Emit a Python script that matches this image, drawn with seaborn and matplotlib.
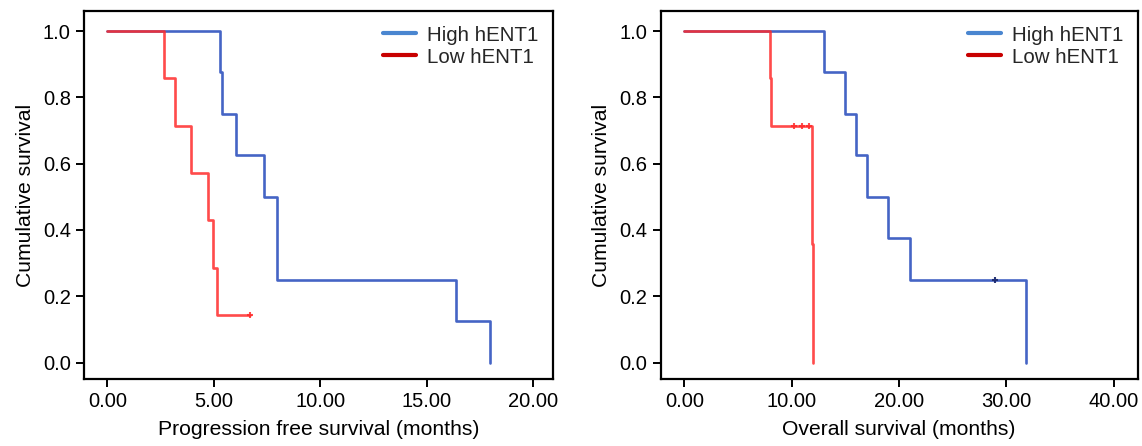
import numpy as np
import pandas as pd
import matplotlib
matplotlib.use("Agg")
import matplotlib.pyplot as plt
from matplotlib.lines import Line2D
import seaborn as sns

# Progression free survival (months), 1 = event, 0 = censored
pfs_high_time = [5.27, 5.38, 6.05, 7.36, 7.97, 7.97, 16.38, 17.98]
pfs_high_event = [1, 1, 1, 1, 1, 1, 1, 1]
pfs_low_time = [2.64, 3.17, 3.94, 4.75, 4.97, 5.14, 6.71]
pfs_low_event = [1, 1, 1, 1, 1, 1, 0]

# Overall survival (months)
os_high_time = [13.0, 15.0, 16.0, 17.0, 19.0, 21.0, 29.0, 31.8]
os_high_event = [1, 1, 1, 1, 1, 1, 0, 1]
os_low_time = [8.0, 8.1, 10.2, 11.0, 11.6, 11.9, 12.0]
os_low_event = [1, 1, 0, 0, 0, 1, 1]

group_labels = ["High hENT1", "Low hENT1"]
pfs_xticks = [0, 5, 10, 15, 20]
os_xticks = [0, 10, 20, 30, 40]
yticks = [0.0, 0.2, 0.4, 0.6, 0.8, 1.0]

BLUE = "#3b5cc2"
RED = "#ff2b2b"


def km_table(times, events):
    df = pd.DataFrame({"t": times, "e": events}).sort_values("t")
    n = len(df)
    s = 1.0
    rows = [(0.0, 1.0)]
    censored = []
    for t, grp in df.groupby("t", sort=True):
        d = grp["e"].sum()
        c = len(grp) - d
        if d > 0:
            s = s * (1 - d / n)
            rows.append((t, s))
        if c > 0:
            censored.append((t, s))
        n -= len(grp)
    steps = pd.DataFrame(rows, columns=["time", "surv"])
    if df["t"].max() > steps["time"].max():
        steps = pd.concat([steps, pd.DataFrame({"time": [df["t"].max()], "surv": [s]})],
                          ignore_index=True)
    cens = pd.DataFrame(censored, columns=["time", "surv"])
    return steps, cens


sns.set_style("white")
plt.rcParams["font.family"] = ["Liberation Sans", "DejaVu Sans"]

fig = plt.figure(figsize=(11.42, 4.46), dpi=100)
ax1 = fig.add_axes([0.0736, 0.150, 0.4107, 0.825])
ax2 = fig.add_axes([0.5785, 0.150, 0.4177, 0.825])

panels = [
    (ax1, [(pfs_high_time, pfs_high_event), (pfs_low_time, pfs_low_event)],
     pfs_xticks, (-1.1, 20.95), "Progression free survival (months)"),
    (ax2, [(os_high_time, os_high_event), (os_low_time, os_low_event)],
     os_xticks, (-2.2, 42.25), "Overall survival (months)"),
]

for ax, groups, xt, xlim, xlabel in panels:
    for (times, events), color, cens_color, alpha in zip(
            groups, [BLUE, RED], ["#1c2a6e", RED], [0.95, 0.85]):
        steps, cens = km_table(times, events)
        sns.lineplot(data=steps, x="time", y="surv", drawstyle="steps-post",
                     estimator=None, color=color, lw=1.9, alpha=alpha, ax=ax)
        if len(cens):
            ax.plot(cens["time"], cens["surv"], linestyle="none", marker="+",
                    ms=5, mew=1.5, color=cens_color, alpha=alpha)
    ax.set_xlim(*xlim)
    ax.set_ylim(-0.05, 1.06)
    ax.set_xticks(xt)
    ax.set_xticklabels([f"{v:.2f}" for v in xt])
    ax.set_yticks(yticks)
    ax.set_yticklabels([f"{v:.1f}" for v in yticks])
    ax.set_xlabel(xlabel, fontsize=15.2, labelpad=6, color="black")
    ax.set_ylabel("Cumulative survival", fontsize=15.2, labelpad=6, color="black")
    ax.tick_params(axis="both", direction="out", length=6, width=1.4,
                   labelsize=14.5, colors="black", left=True, bottom=True)
    for sp in ax.spines.values():
        sp.set_linewidth(1.6)
        sp.set_color("black")
    handles = [Line2D([0], [0], color="#4a86d0", lw=3),
               Line2D([0], [0], color="#c80000", lw=3)]
    ax.legend(handles, group_labels, loc="upper right", frameon=False,
              fontsize=14.8, handlelength=1.6, handletextpad=0.55,
              labelspacing=0.15, borderaxespad=0.3)

fig.savefig("out.png", dpi=100)
